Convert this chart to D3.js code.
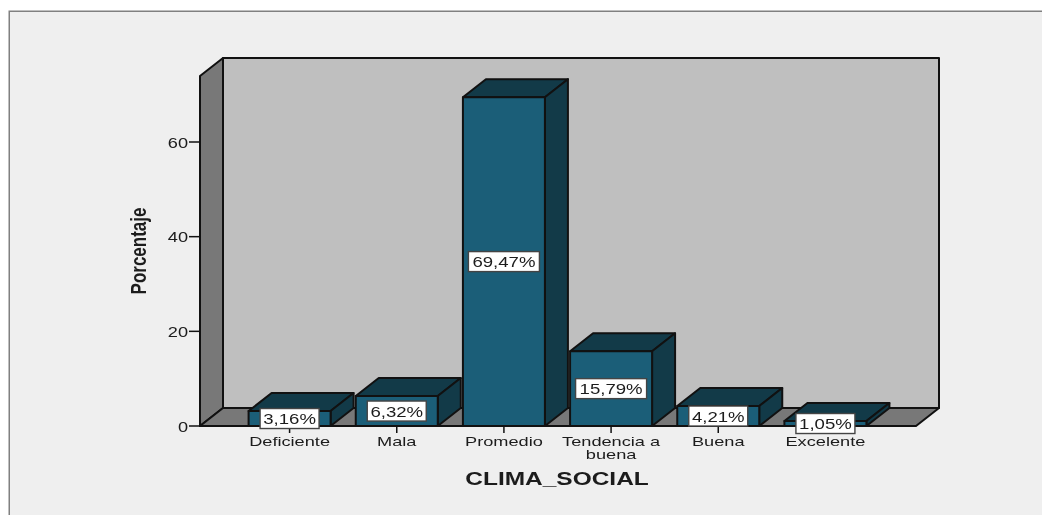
<!DOCTYPE html>
<html><head><meta charset="utf-8">
<script src="https://cdn.jsdelivr.net/npm/d3@7"></script>
<style>html,body{margin:0;padding:0;background:#fff}svg{display:block;filter:blur(0.4px)}
text{font-family:"Liberation Sans",Arial,sans-serif;fill:#1c1c1c}</style></head>
<body><script>
const categories = ["Deficiente","Mala","Promedio","Tendencia a buena","Buena","Excelente"];
const values = [3.16,6.32,69.47,15.79,4.21,1.05];
const valueLabels = ["3,16%","6,32%","69,47%","15,79%","4,21%","1,05%"];
const yTicks = [0,20,40,60];
const xTitle = "CLIMA_SOCIAL", yTitle = "Porcentaje";

const W=1042,H=515, x0=200,x1=916,y0=426, dx=23,dy=18, barW=82;
const y=d3.scaleLinear().domain([0,60]).range([y0,142]);
const x=d3.scaleBand().domain(categories).range([236,879]);
const yTop=76;
const svg=d3.select("body").append("svg").attr("width",W).attr("height",H);
svg.append("rect").attr("width",W).attr("height",H).attr("fill","#fff");
svg.append("path").attr("d",`M9.5,${H}V11.5H${W}`).attr("fill","none").attr("stroke","#808080").attr("stroke-width",2);
svg.append("rect").attr("x",10).attr("y",12).attr("width",W-10).attr("height",H-12).attr("fill","#efefef");
const line="#111";
const poly=(pts,fill,sw=2)=>svg.append("path").attr("d",d3.line()(pts)+"Z").attr("fill",fill).attr("stroke",line).attr("stroke-width",sw).attr("stroke-linejoin","round");
// walls
poly([[x0+dx,yTop-dy],[x1+dx,yTop-dy],[x1+dx,y0-dy],[x0+dx,y0-dy]],"#bfbfbf");
poly([[x0,yTop],[x0+dx,yTop-dy],[x0+dx,y0-dy],[x0,y0]],"#787878");
poly([[x0,y0],[x0+dx,y0-dy],[x1+dx,y0-dy],[x1,y0]],"#787878");
// y ticks
const stretch=(sel,cx,cy,s)=>sel.attr("transform",`translate(${cx},${cy}) scale(${s},1)`);
const yAxis=svg.append("g");
yTicks.forEach(t=>{
  yAxis.append("line").attr("x1",x0-11).attr("x2",x0).attr("y1",y(t)).attr("y2",y(t)).attr("stroke",line).attr("stroke-width",1.5);
  stretch(yAxis.append("text").text(t).attr("font-size",14).attr("text-anchor","end"),x0-12,y(t)+5.5,1.3);
});
// bars
categories.forEach((c,i)=>{
  const l=x(c)+x.bandwidth()/2-barW/2, r=l+barW, t=y(values[i]);
  poly([[l,t],[l+dx,t-dy],[r+dx,t-dy],[r,t]],"#123a48");
  poly([[r,t],[r+dx,t-dy],[r+dx,y0-dy],[r,y0]],"#123a48");
  poly([[l,t],[r,t],[r,y0],[l,y0]],"#1b5e78");
});
svg.append("line").attr("x1",x0).attr("x2",x1).attr("y1",y0).attr("y2",y0).attr("stroke",line).attr("stroke-width",2);
// x ticks + labels
categories.forEach(c=>{
  const cx=x(c)+x.bandwidth()/2;
  svg.append("line").attr("x1",cx).attr("x2",cx).attr("y1",y0).attr("y2",y0+7).attr("stroke",line).attr("stroke-width",1.5);
  const words=c==="Tendencia a buena"?["Tendencia a","buena"]:[c];
  words.forEach((w,k)=>stretch(svg.append("text").text(w).attr("font-size",13).attr("text-anchor","middle"),cx,y0+20+k*13,1.4));
});
// value labels
categories.forEach((c,i)=>{
  const cx=x(c)+x.bandwidth()/2, cy=y(values[i]/2);
  const bw=valueLabels[i].length===6?71:59;
  svg.append("rect").attr("x",cx-bw/2).attr("y",cy-10).attr("width",bw).attr("height",20).attr("fill","#fff").attr("stroke","#444").attr("stroke-width",1.4);
  stretch(svg.append("text").text(valueLabels[i]).attr("font-size",15).attr("text-anchor","middle"),cx,cy+5.5,1.24);
});
// titles
stretch(svg.append("text").text(xTitle).attr("font-size",18).attr("font-weight","bold").attr("text-anchor","middle"),557,485,1.36);
svg.append("text").text(yTitle).attr("font-size",17).attr("font-weight","bold").attr("text-anchor","middle")
   .attr("transform","translate(146,251) rotate(-90) scale(1,1.25)");
</script></body></html>
